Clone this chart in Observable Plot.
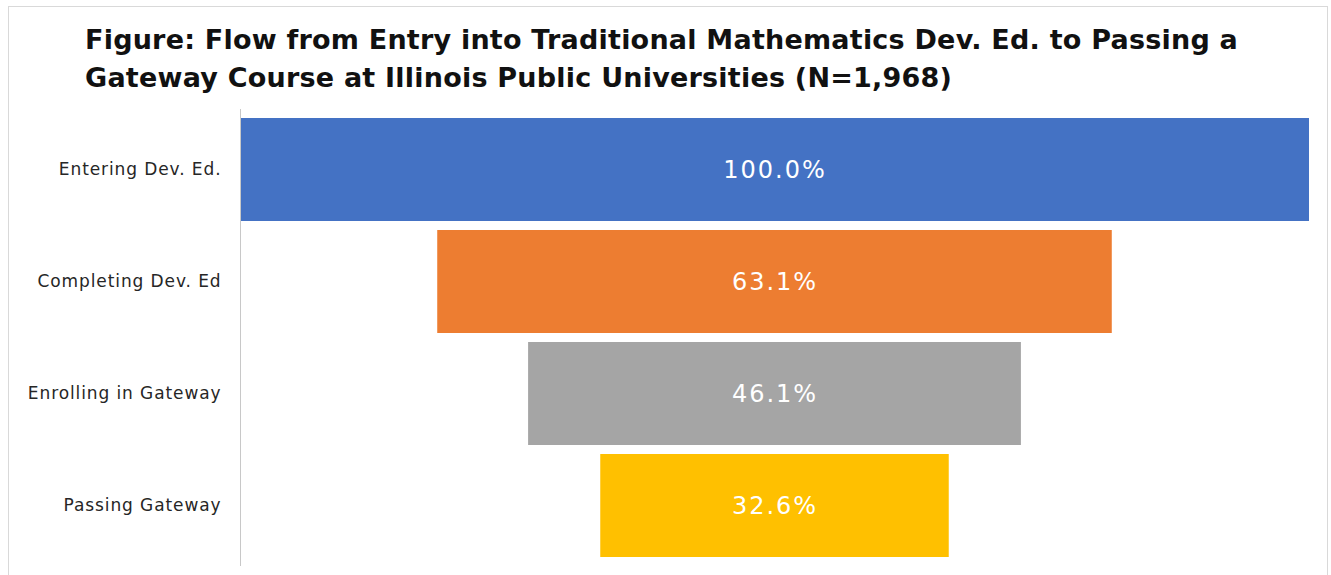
<!DOCTYPE html>
<html>
<head>
<meta charset="utf-8">
<script src="https://cdn.jsdelivr.net/npm/d3@7"></script>
<script src="https://cdn.jsdelivr.net/npm/@observablehq/plot@0.6"></script>
<style>
  html, body { margin: 0; padding: 0; background: #fff; width: 1331px; height: 575px; overflow: hidden; }
  #frame { position: absolute; left: 8px; top: 6px; width: 1320px; height: 600px; border: 1px solid #d9d9d9; box-sizing: border-box; }
  #title { position: absolute; left: 85px; top: 21px; font-family: "DejaVu Sans", sans-serif; font-weight: bold; font-size: 27px; line-height: 38px; color: #111; white-space: nowrap; }
  #chart { position: absolute; left: 0; top: 100px; }
</style>
</head>
<body>
<div id="frame"></div>
<div id="title"><span id="t1">Figure: Flow from Entry into Traditional Mathematics Dev. Ed. to Passing a</span><br><span id="t2">Gateway Course at Illinois Public Universities (N=1,968)</span></div>
<div id="chart"></div>
<script>
const stages = ["Entering Dev. Ed.", "Completing Dev. Ed", "Enrolling in Gateway", "Passing Gateway"];
const values = [100.0, 63.1, 46.1, 32.6];
const colors = ["#4472C4", "#ED7D31", "#A5A5A5", "#FFC000"];

const data = stages.map((s, i) => ({stage: s, value: values[i], color: colors[i]}));

// fit title line 1 to reference width
(function () {
  const t1 = document.getElementById("t1");
  const w = t1.getBoundingClientRect().width;
  const target = 1153;
  const n = t1.textContent.length;
  const ls = (target - w) / n;
  document.getElementById("title").style.letterSpacing = ls + "px";
})();

const plot = Plot.plot({
  width: 1331,
  height: 475,
  marginLeft: 240,
  marginRight: 22,
  marginTop: 9,
  marginBottom: 9,
  x: {domain: [0, 100], axis: null},
  y: {domain: stages, padding: 0.08, label: null, tickSize: 0, tickPadding: 19},
  style: {fontFamily: "'DejaVu Sans', sans-serif", fontSize: "17px", color: "#262626"},
  marks: [
    Plot.barX(data, {y: "stage", x1: d => 50 - d.value / 2, x2: d => 50 + d.value / 2, fill: "color"}),
    Plot.ruleX([0], {stroke: "#c8c8c8", strokeWidth: 1}),
    Plot.text(data, {y: "stage", x: 50, text: d => d.value.toFixed(1) + "%", fill: "white", fontSize: 24, fontFamily: "'DejaVu Sans', sans-serif"})
  ]
});
document.getElementById("chart").appendChild(plot);
plot.querySelectorAll("g[aria-label='text'] text").forEach(t => t.style.letterSpacing = "2px");
plot.querySelectorAll("g[aria-label='y-axis tick label'] text").forEach(t => t.style.letterSpacing = "0.9px");
</script>
</body>
</html>
